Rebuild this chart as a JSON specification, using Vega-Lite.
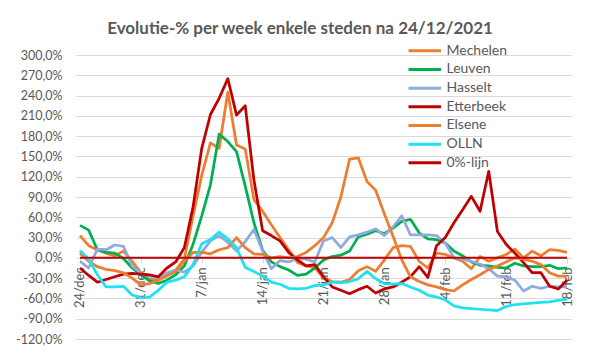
{
  "$schema": "https://vega.github.io/schema/vega-lite/v6.json",
  "width": 495,
  "height": 284,
  "autosize": {"type": "none"},
  "padding": {"left": 76, "top": 55, "right": 28, "bottom": 20},
  "background": "white",
  "config": {"view": {"stroke": null}},
  "title": {
    "text": "Evolutie-% per week enkele steden na 24/12/2021",
    "font": "Lato", "fontSize": 17, "fontWeight": "bold", "color": "#595959",
    "anchor": "middle", "frame": "group", "dx": -23.5, "offset": 5
  },
  "data": {"values": [
    {"datum": "2021-12-24", "Mechelen": 33, "Leuven": 48, "Hasselt": -5, "Etterbeek": -15, "Elsene": 7, "OLLN": 11, "0%-lijn": 0},
    {"datum": "2021-12-25", "Mechelen": 18, "Leuven": 41, "Hasselt": -15, "Etterbeek": -26, "Elsene": -5, "OLLN": -2, "0%-lijn": 0},
    {"datum": "2021-12-26", "Mechelen": 12, "Leuven": 12, "Hasselt": 13, "Etterbeek": -36, "Elsene": -13, "OLLN": -25, "0%-lijn": 0},
    {"datum": "2021-12-27", "Mechelen": 7, "Leuven": 8, "Hasselt": 12, "Etterbeek": -32, "Elsene": -17, "OLLN": -43, "0%-lijn": 0},
    {"datum": "2021-12-28", "Mechelen": 3, "Leuven": 7, "Hasselt": 19, "Etterbeek": -28, "Elsene": -19, "OLLN": -43, "0%-lijn": 0},
    {"datum": "2021-12-29", "Mechelen": 10, "Leuven": -1, "Hasselt": 17, "Etterbeek": -24, "Elsene": -22, "OLLN": -42, "0%-lijn": 0},
    {"datum": "2021-12-30", "Mechelen": -5, "Leuven": -15, "Hasselt": -12, "Etterbeek": -23, "Elsene": -30, "OLLN": -55, "0%-lijn": 0},
    {"datum": "2021-12-31", "Mechelen": -22, "Leuven": -25, "Hasselt": -23, "Etterbeek": -24, "Elsene": -40, "OLLN": -59, "0%-lijn": 0},
    {"datum": "2022-01-01", "Mechelen": -32, "Leuven": -34, "Hasselt": -27, "Etterbeek": -25, "Elsene": -38, "OLLN": -58, "0%-lijn": 0},
    {"datum": "2022-01-02", "Mechelen": -33, "Leuven": -38, "Hasselt": -30, "Etterbeek": -28, "Elsene": -33, "OLLN": -48, "0%-lijn": 0},
    {"datum": "2022-01-03", "Mechelen": -25, "Leuven": -33, "Hasselt": -22, "Etterbeek": -15, "Elsene": -27, "OLLN": -36, "0%-lijn": 0},
    {"datum": "2022-01-04", "Mechelen": -18, "Leuven": -25, "Hasselt": -18, "Etterbeek": -6, "Elsene": -20, "OLLN": -33, "0%-lijn": 0},
    {"datum": "2022-01-05", "Mechelen": -2, "Leuven": -12, "Hasselt": -21, "Etterbeek": 15, "Elsene": -5, "OLLN": -28, "0%-lijn": 0},
    {"datum": "2022-01-06", "Mechelen": 62, "Leuven": 20, "Hasselt": -12, "Etterbeek": 75, "Elsene": 8, "OLLN": -10, "0%-lijn": 0},
    {"datum": "2022-01-07", "Mechelen": 122, "Leuven": 62, "Hasselt": 8, "Etterbeek": 162, "Elsene": 8, "OLLN": 21, "0%-lijn": 0},
    {"datum": "2022-01-08", "Mechelen": 170, "Leuven": 108, "Hasselt": 25, "Etterbeek": 212, "Elsene": 6, "OLLN": 27, "0%-lijn": 0},
    {"datum": "2022-01-09", "Mechelen": 162, "Leuven": 183, "Hasselt": 33, "Etterbeek": 236, "Elsene": 12, "OLLN": 38, "0%-lijn": 0},
    {"datum": "2022-01-10", "Mechelen": 245, "Leuven": 172, "Hasselt": 23, "Etterbeek": 265, "Elsene": 15, "OLLN": 28, "0%-lijn": 0},
    {"datum": "2022-01-11", "Mechelen": 167, "Leuven": 157, "Hasselt": 10, "Etterbeek": 211, "Elsene": 30, "OLLN": 15, "0%-lijn": 0},
    {"datum": "2022-01-12", "Mechelen": 161, "Leuven": 106, "Hasselt": 24, "Etterbeek": 225, "Elsene": 15, "OLLN": -14, "0%-lijn": 0},
    {"datum": "2022-01-13", "Mechelen": 86, "Leuven": 52, "Hasselt": 42, "Etterbeek": 115, "Elsene": 6, "OLLN": -20, "0%-lijn": 0},
    {"datum": "2022-01-14", "Mechelen": 69, "Leuven": 11, "Hasselt": 10, "Etterbeek": 40, "Elsene": 5, "OLLN": -27, "0%-lijn": 0},
    {"datum": "2022-01-15", "Mechelen": 49, "Leuven": -6, "Hasselt": -16, "Etterbeek": 33, "Elsene": 0, "OLLN": -36, "0%-lijn": 0},
    {"datum": "2022-01-16", "Mechelen": 30, "Leuven": -13, "Hasselt": -4, "Etterbeek": 25, "Elsene": 2, "OLLN": -39, "0%-lijn": 0},
    {"datum": "2022-01-17", "Mechelen": 12, "Leuven": -18, "Hasselt": -6, "Etterbeek": 8, "Elsene": 0, "OLLN": -45, "0%-lijn": 0},
    {"datum": "2022-01-18", "Mechelen": -7, "Leuven": -26, "Hasselt": -1, "Etterbeek": -3, "Elsene": 2, "OLLN": -46, "0%-lijn": 0},
    {"datum": "2022-01-19", "Mechelen": -12, "Leuven": -24, "Hasselt": -2, "Etterbeek": -12, "Elsene": 8, "OLLN": -45, "0%-lijn": 0},
    {"datum": "2022-01-20", "Mechelen": -14, "Leuven": -15, "Hasselt": -6, "Etterbeek": -10, "Elsene": 18, "OLLN": -41, "0%-lijn": 0},
    {"datum": "2022-01-21", "Mechelen": -30, "Leuven": -3, "Hasselt": 25, "Etterbeek": -28, "Elsene": 30, "OLLN": -40, "0%-lijn": 0},
    {"datum": "2022-01-22", "Mechelen": -35, "Leuven": 2, "Hasselt": 30, "Etterbeek": -43, "Elsene": 52, "OLLN": -36, "0%-lijn": 0},
    {"datum": "2022-01-23", "Mechelen": -36, "Leuven": 4, "Hasselt": 15, "Etterbeek": -48, "Elsene": 90, "OLLN": -37, "0%-lijn": 0},
    {"datum": "2022-01-24", "Mechelen": -32, "Leuven": 10, "Hasselt": 31, "Etterbeek": -53, "Elsene": 146, "OLLN": -35, "0%-lijn": 0},
    {"datum": "2022-01-25", "Mechelen": -19, "Leuven": 31, "Hasselt": 34, "Etterbeek": -47, "Elsene": 148, "OLLN": -31, "0%-lijn": 0},
    {"datum": "2022-01-26", "Mechelen": -13, "Leuven": 35, "Hasselt": 38, "Etterbeek": -42, "Elsene": 113, "OLLN": -20, "0%-lijn": 0},
    {"datum": "2022-01-27", "Mechelen": -20, "Leuven": 40, "Hasselt": 43, "Etterbeek": -52, "Elsene": 100, "OLLN": -31, "0%-lijn": 0},
    {"datum": "2022-01-28", "Mechelen": -3, "Leuven": 36, "Hasselt": 33, "Etterbeek": -46, "Elsene": 65, "OLLN": -38, "0%-lijn": 0},
    {"datum": "2022-01-29", "Mechelen": 15, "Leuven": 44, "Hasselt": 46, "Etterbeek": -43, "Elsene": 32, "OLLN": -39, "0%-lijn": 0},
    {"datum": "2022-01-30", "Mechelen": 18, "Leuven": 54, "Hasselt": 62, "Etterbeek": -36, "Elsene": -3, "OLLN": -38, "0%-lijn": 0},
    {"datum": "2022-01-31", "Mechelen": 17, "Leuven": 57, "Hasselt": 34, "Etterbeek": -28, "Elsene": -28, "OLLN": -43, "0%-lijn": 0},
    {"datum": "2022-02-01", "Mechelen": -5, "Leuven": 37, "Hasselt": 34, "Etterbeek": -13, "Elsene": -35, "OLLN": -48, "0%-lijn": 0},
    {"datum": "2022-02-02", "Mechelen": -15, "Leuven": 28, "Hasselt": 34, "Etterbeek": -29, "Elsene": -40, "OLLN": -55, "0%-lijn": 0},
    {"datum": "2022-02-03", "Mechelen": 7, "Leuven": 27, "Hasselt": 33, "Etterbeek": 18, "Elsene": -43, "OLLN": -58, "0%-lijn": 0},
    {"datum": "2022-02-04", "Mechelen": 5, "Leuven": 22, "Hasselt": 22, "Etterbeek": 30, "Elsene": -47, "OLLN": -62, "0%-lijn": 0},
    {"datum": "2022-02-05", "Mechelen": 0, "Leuven": 10, "Hasselt": 0, "Etterbeek": 52, "Elsene": -49, "OLLN": -71, "0%-lijn": 0},
    {"datum": "2022-02-06", "Mechelen": -5, "Leuven": 3, "Hasselt": -2, "Etterbeek": 71, "Elsene": -40, "OLLN": -74, "0%-lijn": 0},
    {"datum": "2022-02-07", "Mechelen": -16, "Leuven": -6, "Hasselt": -5, "Etterbeek": 91, "Elsene": -32, "OLLN": -75, "0%-lijn": 0},
    {"datum": "2022-02-08", "Mechelen": 2, "Leuven": -11, "Hasselt": -9, "Etterbeek": 69, "Elsene": -25, "OLLN": -76, "0%-lijn": 0},
    {"datum": "2022-02-09", "Mechelen": -5, "Leuven": -12, "Hasselt": -16, "Etterbeek": 128, "Elsene": -17, "OLLN": -77, "0%-lijn": 0},
    {"datum": "2022-02-10", "Mechelen": 0, "Leuven": -14, "Hasselt": -27, "Etterbeek": 39, "Elsene": -12, "OLLN": -78, "0%-lijn": 0},
    {"datum": "2022-02-11", "Mechelen": 5, "Leuven": -15, "Hasselt": -28, "Etterbeek": 20, "Elsene": -6, "OLLN": -72, "0%-lijn": 0},
    {"datum": "2022-02-12", "Mechelen": 13, "Leuven": -8, "Hasselt": -33, "Etterbeek": 7, "Elsene": 0, "OLLN": -69, "0%-lijn": 0},
    {"datum": "2022-02-13", "Mechelen": 0, "Leuven": -12, "Hasselt": -49, "Etterbeek": -7, "Elsene": -2, "OLLN": -68, "0%-lijn": 0},
    {"datum": "2022-02-14", "Mechelen": 10, "Leuven": -13, "Hasselt": -42, "Etterbeek": -22, "Elsene": -5, "OLLN": -67, "0%-lijn": 0},
    {"datum": "2022-02-15", "Mechelen": 3, "Leuven": -13, "Hasselt": -45, "Etterbeek": -22, "Elsene": -10, "OLLN": -66, "0%-lijn": 0},
    {"datum": "2022-02-16", "Mechelen": 12, "Leuven": -11, "Hasselt": -42, "Etterbeek": -42, "Elsene": -22, "OLLN": -65, "0%-lijn": 0},
    {"datum": "2022-02-17", "Mechelen": 11, "Leuven": -16, "Hasselt": -43, "Etterbeek": -46, "Elsene": -27, "OLLN": -63, "0%-lijn": 0},
    {"datum": "2022-02-18", "Mechelen": 8, "Leuven": -15, "Hasselt": -42, "Etterbeek": -33, "Elsene": -27, "OLLN": -61, "0%-lijn": 0}
  ]},
  "transform": [
    {"fold": ["Mechelen", "Leuven", "Hasselt", "Etterbeek", "Elsene", "OLLN", "0%-lijn"], "as": ["reeks", "waarde"]}
  ],
  "mark": {"type": "line", "strokeJoin": "round", "strokeCap": "butt"},
  "encoding": {
    "x": {
      "field": "datum", "type": "temporal",
      "scale": {"type": "utc", "domain": [
        {"year": 2021, "month": 12, "date": 23, "hours": 13, "utc": true},
        {"year": 2022, "month": 2, "date": 18, "hours": 11, "utc": true}
      ]},
      "axis": {
        "title": null, "grid": false, "offset": -81.14,
        "values": [
          {"year": 2021, "month": 12, "date": 24, "utc": true},
          {"year": 2021, "month": 12, "date": 31, "utc": true},
          {"year": 2022, "month": 1, "date": 7, "utc": true},
          {"year": 2022, "month": 1, "date": 14, "utc": true},
          {"year": 2022, "month": 1, "date": 21, "utc": true},
          {"year": 2022, "month": 1, "date": 28, "utc": true},
          {"year": 2022, "month": 2, "date": 4, "utc": true},
          {"year": 2022, "month": 2, "date": 11, "utc": true},
          {"year": 2022, "month": 2, "date": 18, "utc": true}
        ],
        "labelExpr": "lower(utcFormat(datum.value, '%-d/%b'))",
        "labelAngle": 270, "labelFont": "Lato", "labelFontSize": 13, "labelColor": "#595959",
        "labelPadding": 4, "tickSize": 5, "tickColor": "#D9D9D9", "domainColor": "#D9D9D9",
        "labelOverlap": false, "labelFlush": false
      }
    },
    "y": {
      "field": "waarde", "type": "quantitative",
      "scale": {"domain": [-120, 300], "nice": false, "zero": false},
      "axis": {
        "title": null,
        "values": [-120, -90, -60, -30, 0, 30, 60, 90, 120, 150, 180, 210, 240, 270, 300],
        "labelExpr": "(datum.value < 0 ? '-' : '') + replace(format(abs(datum.value), '.1f'), '.', ',') + '%'",
        "domain": false, "ticks": false, "labelPadding": 14,
        "grid": true, "gridColor": "#D9D9D9", "gridWidth": 1,
        "labelFont": "Lato", "labelFontSize": 12.5, "labelColor": "#595959"
      }
    },
    "color": {
      "field": "reeks", "type": "nominal",
      "scale": {
        "domain": ["Mechelen", "Leuven", "Hasselt", "Etterbeek", "Elsene", "OLLN", "0%-lijn"],
        "range": ["#ED7D31", "#00B050", "#8FAADC", "#C00000", "#ED7D31", "#1DE3F0", "#C00000"]
      },
      "legend": {
        "title": null, "orient": "none", "legendX": 340.75, "legendY": -12.2,
        "symbolType": "M-2.5,0H2.5", "symbolSize": 169, "symbolStrokeWidth": 3,
        "labelOffset": 13.75, "labelFont": "Lato", "labelFontSize": 14, "labelColor": "#595959",
        "rowPadding": 3.67, "padding": 0
      }
    },
    "strokeWidth": {"condition": {"test": "datum.reeks === '0%-lijn'", "value": 2}, "value": 2.75}
  }
}
